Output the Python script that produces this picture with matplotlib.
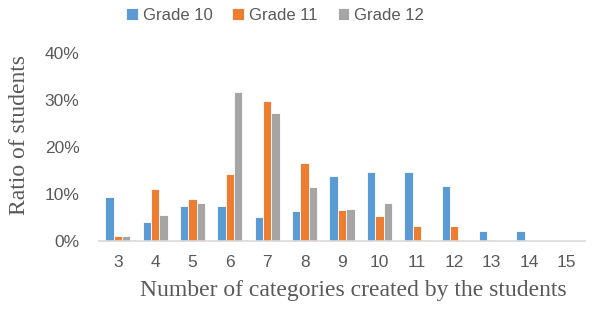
import matplotlib.pyplot as plt
import numpy as np
from matplotlib.ticker import PercentFormatter

# number of categories created and share of students per grade
categories = [3, 4, 5, 6, 7, 8, 9, 10, 11, 12, 13, 14, 15]
grade10 = [0.094, 0.041, 0.074, 0.074, 0.052, 0.063, 0.138, 0.146, 0.146, 0.116, 0.021, 0.021, 0.0]
grade11 = [0.010, 0.110, 0.089, 0.143, 0.297, 0.165, 0.065, 0.054, 0.032, 0.032, 0.0, 0.0, 0.0]
grade12 = [0.010, 0.056, 0.080, 0.316, 0.272, 0.114, 0.068, 0.080, 0.0, 0.0, 0.0, 0.0, 0.0]
series_names = ["Grade 10", "Grade 11", "Grade 12"]

colors = ["#5B9BD5", "#ED7D31", "#A5A5A5"]
text_col = "#595959"
sans = "Liberation Sans"
serif = "Liberation Serif"

fig = plt.figure(figsize=(5.92, 3.10), dpi=100)
ax = fig.add_axes([99 / 592, 1 - 241 / 310, 486 / 592, 188 / 310])

x = np.arange(len(categories))
w = 0.223
for i, (vals, name) in enumerate(zip([grade10, grade11, grade12], series_names)):
    ax.bar(x + (i - 1) * w, vals, width=w, color=colors[i], edgecolor="white",
           linewidth=0.6, label=name)

ax.set_xlim(-0.5, len(categories) - 0.5)
ax.set_ylim(0, 0.4)
ax.set_yticks([0, 0.1, 0.2, 0.3, 0.4])
ax.yaxis.set_major_formatter(PercentFormatter(1.0, decimals=0))
ax.set_xticks(x)
ax.set_xticklabels([str(c) for c in categories])

for s in ["top", "right", "left"]:
    ax.spines[s].set_visible(False)
ax.spines["bottom"].set_color("#D9D9D9")
ax.spines["bottom"].set_linewidth(1.2)
ax.tick_params(axis="both", length=0, colors=text_col, labelsize=12.5)
ax.tick_params(axis="x", pad=10)
ax.tick_params(axis="y", pad=14)
for lbl in ax.get_xticklabels() + ax.get_yticklabels():
    lbl.set_family(sans)

ax.set_xlabel("Number of categories created by the students", family=serif,
              fontsize=17, color=text_col)
ax.xaxis.set_label_coords(0.523, -0.205)
ax.set_ylabel("Ratio of students", family=serif, fontsize=17, color=text_col)
ax.yaxis.set_label_coords(-0.142, 0.564)

handles, labels = ax.get_legend_handles_labels()
fig.legend(handles, labels, loc="center", bbox_to_anchor=(275 / 592, 1 - 15 / 310),
           ncol=3, frameon=False, prop={"family": sans, "size": 12},
           labelcolor=text_col, handlelength=0.7, handleheight=0.7,
           handletextpad=0.3, columnspacing=1.2)

fig.savefig("out.png", dpi=100)
